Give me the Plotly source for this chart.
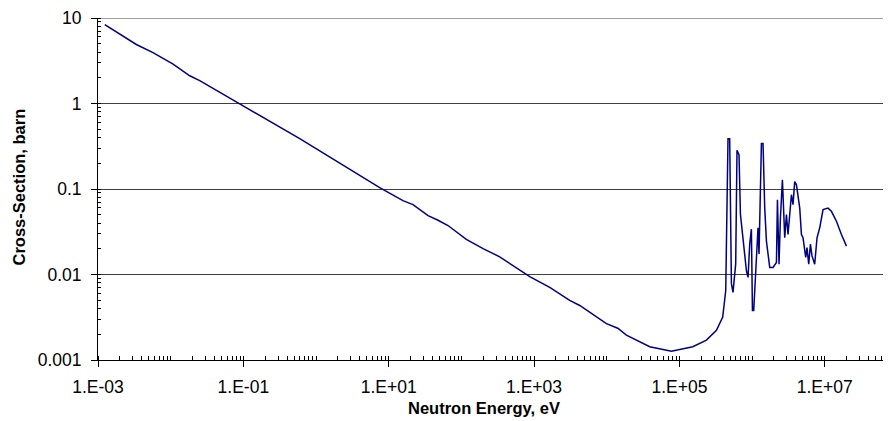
import plotly.graph_objects as go

# Neutron energy (eV) and cross-section (barn)
energy_ev = [
    1.24e-3, 1.61e-3, 3.37e-3, 5.71e-3, 1.08e-2, 1.83e-2, 2.51e-2, 8.91e-2, 0.597, 7.52,
    15.7, 21.6, 34.8, 47.7, 65.5, 117, 199, 337, 572, 873,
    1644, 2259, 3097, 4256, 9910, 14190, 18670, 39080, 77700, 152800,
    235600, 323600, 394800, 434500, 466700, 492200, 520000, 547000, 595700, 620700,
    661800, 692000, 751300, 837200, 880700, 929000, 979700, 1.012e6, 1.054e6, 1.122e6,
    1.208e6, 1.247e6, 1.303e6, 1.345e6, 1.416e6, 1.494e6, 1.577e6, 1.751e6, 1.944e6, 2.166e6,
    2.235e6, 2.350e6, 2.456e6, 2.617e6, 2.816e6, 2.972e6, 3.126e6, 3.481e6, 3.663e6, 3.863e6,
    4.081e6, 4.531e6, 4.782e6, 5.028e6, 5.478e6, 5.705e6, 6.023e6, 6.355e6, 6.683e6, 7.278e6,
    7.834e6, 8.531e6, 9.484e6, 1.109e7, 1.236e7, 1.449e7, 1.698e7, 1.990e7,
]
cross_section_barn = [
    8.36, 7.31, 4.90, 3.93, 2.88, 2.11, 1.85, 0.99, 0.388, 0.104,
    0.0730, 0.0656, 0.0489, 0.0431, 0.0374, 0.0258, 0.0201, 0.0161, 0.0121, 0.00942,
    0.00708, 0.00593, 0.00497, 0.00434, 0.00266, 0.00235, 0.00195, 0.00143, 0.00127, 0.00143,
    0.00171, 0.00223, 0.00318, 0.00649, 0.388, 0.388, 0.00782, 0.00619, 0.0133, 0.284,
    0.251, 0.0506, 0.0246, 0.0110, 0.00924, 0.0228, 0.0339, 0.00380, 0.00380, 0.00924,
    0.0352, 0.0174, 0.113, 0.340, 0.340, 0.0598, 0.0246, 0.0121, 0.0121, 0.0138,
    0.0750, 0.0132, 0.0458, 0.128, 0.0269, 0.0502, 0.0294, 0.0857, 0.0656, 0.122,
    0.112, 0.0598, 0.0294, 0.0269, 0.0158, 0.0206, 0.0132, 0.0226, 0.0165, 0.0132,
    0.0269, 0.0352, 0.0574, 0.0598, 0.0548, 0.0420, 0.0294, 0.0215,
]

x_tick_vals = [1e-3, 1e-1, 1e1, 1e3, 1e5, 1e7]
x_tick_text = ["1.E-03", "1.E-01", "1.E+01", "1.E+03", "1.E+05", "1.E+07"]
y_tick_vals = [1e-3, 1e-2, 1e-1, 1, 10]
y_tick_text = ["0.001", "0.01", "0.1", "1", "10"]

FONT = "Liberation Sans, Arial, sans-serif"
GRID = "#404040"

# The page body has an 8px default margin, so the figure is 8px smaller
# and every pixel position below is in figure coordinates (window - 8).
W, H = 883, 413
l, r, t, b = 90, 0, 7, 61
pw, ph = W - l - r, H - t - b

fig = go.Figure()
fig.add_trace(go.Scatter(
    x=energy_ev, y=cross_section_barn, mode="lines",
    line=dict(color="#000080", width=1.5), showlegend=False,
))

# top gridline (at the upper end of the y range, which plotly skips)
fig.add_shape(type="line", xref="paper", yref="y", x0=0, x1=1,
              y0=y_tick_vals[-1], y1=y_tick_vals[-1],
              line=dict(color=GRID, width=1), layer="below")

fig.update_layout(
    width=W, height=H,
    margin=dict(l=l, r=r, t=t, b=b),
    paper_bgcolor="white", plot_bgcolor="white",
    font=dict(family=FONT, size=17.5, color="black"),
    xaxis=dict(
        type="log", range=[-3, 7.912],
        tickvals=x_tick_vals, ticktext=x_tick_text,
        ticks="outside", ticklen=6, tickcolor="black", tickwidth=1,
        showline=True, linecolor="black", linewidth=1,
        showgrid=False, zeroline=False,
        ticklabelstandoff=5,
        minor=dict(dtick="D1", ticks="inside", ticklen=4, tickcolor="black", showgrid=False),
    ),
    yaxis=dict(
        type="log", range=[-3, 1],
        tickvals=y_tick_vals, ticktext=y_tick_text,
        ticks="outside", ticklen=6, tickcolor="black", tickwidth=1,
        showline=True, linecolor="black", linewidth=1,
        showgrid=True, gridcolor=GRID, gridwidth=1,
        zeroline=False,
        ticklabelstandoff=6,
        ticklabeloverflow="allow",
        minor=dict(dtick="D1", ticks="inside", ticklen=3, tickcolor="black", showgrid=False),
    ),
    annotations=[
        dict(text="<b>Neutron Energy, eV</b>", x=(476 - l) / pw, y=(H - b - 400) / ph,
             xref="paper", yref="paper", xanchor="center", yanchor="middle",
             showarrow=False, font=dict(size=16.5, family=FONT)),
        dict(text="<b>Cross-Section, barn</b>", x=(11 - l) / pw, y=(H - b - 178) / ph,
             xref="paper", yref="paper", xanchor="center", yanchor="middle",
             showarrow=False, textangle=-90, font=dict(size=16.5, family=FONT)),
    ],
)

fig.write_html("out.html")
